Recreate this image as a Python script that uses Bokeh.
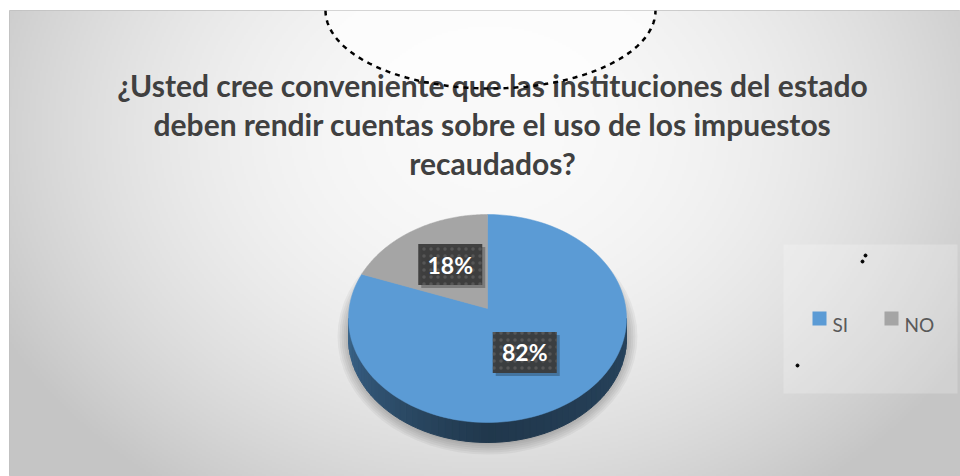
import numpy as np
from bokeh.plotting import figure
from bokeh.models import Range1d, ColumnDataSource
from bokeh.core.properties import value
from bokeh.embed import file_html
from bokeh.resources import INLINE

# ---- data ----
title_lines = ["¿Usted cree conveniente que las instituciones del estado",
               "deben rendir cuentas sobre el uso de los impuestos",
               "recaudados?"]
categories = ["SI", "NO"]
values = [82, 18]
colors = ["#5B9BD5", "#A5A5A5"]

H = 476
def Y(s):
    return H - s

p = figure(width=960, height=476, x_range=Range1d(9, 960), y_range=Range1d(Y(476), Y(10)),
           output_backend="svg", toolbar_location=None,
           x_axis_location=None, y_axis_location=None,
           min_border_left=9, min_border_right=0, min_border_top=10, min_border_bottom=0)
p.outline_line_color = "#c0c0c0"
p.grid.visible = False
p.background_fill_color = "#d8d8d8"
p.border_fill_color = "white"

# ---- background gradient ----
gw, gh = 476, 233
xs = np.linspace(9, 960, gw)
ss = np.linspace(476, 10, gh)
X, S = np.meshgrid(xs, ss)
d2 = ((X - 490) / 600) ** 2 + ((S - 130) / 480) ** 2
L = np.clip(250 - 62 * d2, 197, 250).astype(np.uint32)
img = (np.uint32(255) << 24) | (L << 16) | (L << 8) | L
p.image_rgba(image=[img], x=9, y=Y(476), dw=951, dh=466)

# ---- dashed annotation arc (white area) ----
t = np.linspace(-np.pi / 2, np.pi / 2, 80)
ax_ = 490 + 165 * np.sin(t)
ay_ = Y(10 + 78 * np.cos(t))
p.patch(ax_, ay_, fill_color="white", fill_alpha=0.7, line_color=None)

# ---- title ----
tsrc = ColumnDataSource(dict(x=[492] * len(title_lines),
                             y=[Y(84 + 39 * i) for i in range(len(title_lines))],
                             t=title_lines))
p.text("x", "y", "t", source=tsrc, text_font=value("Lato"), text_font_style="bold",
       text_font_size="30px", text_color="#404040", text_align="center",
       text_baseline="alphabetic")

p.line(ax_, ay_, line_color="black", line_width=2.5, line_dash="5 5")

# ---- 3D pie ----
cx, cy, rx, ry, depth = 487, Y(318), 139, 104, 20
apx, apy = 487, Y(308)
fr = np.array(values, dtype=float) / sum(values)
ends = np.cumsum(fr) * 2 * np.pi
starts = np.concatenate([[0.0], ends[:-1]])

def ept(a, dy=0.0):
    return cx + rx * np.sin(a), cy + ry * np.cos(a) - dy

# soft shadow
for i in range(6):
    p.ellipse(x=cx, y=Y(336), width=2 * (rx + 1 + 2 * i), height=2 * (ry + 4 + 2 * i),
              fill_color="black", fill_alpha=0.045, line_color=None)

def hexrgb(h):
    h = h.lstrip("#")
    return np.array([int(h[k:k + 2], 16) for k in (0, 2, 4)], dtype=float)

def shade(a):
    deg = np.degrees(a)
    return np.interp(deg, [90, 180, 240, 270], [0.44, 0.36, 0.55, 0.66])

# side (front half: clockwise angle 90..270 deg)
for i, (s0, e0) in enumerate(zip(starts, ends)):
    lo, hi = max(s0, np.pi / 2), min(e0, 3 * np.pi / 2)
    if hi <= lo:
        continue
    base = hexrgb(colors[i])
    edges = np.linspace(lo, hi, 61)
    qx, qy, qc = [], [], []
    for a0, a1 in zip(edges[:-1], edges[1:]):
        x0, y0 = ept(a0)
        x1, y1 = ept(a1)
        xb0, yb0 = ept(a0, depth)
        xb1, yb1 = ept(a1, depth)
        qx.append([x0, x1, xb1, xb0])
        qy.append([y0, y1, yb1, yb0])
        c = np.clip(base * shade((a0 + a1) / 2), 0, 255).astype(int)
        qc.append("#%02x%02x%02x" % tuple(c))
    p.patches(qx, qy, fill_color=qc, line_color=qc, line_width=1)

# top surfaces
for i, (s0, e0) in enumerate(zip(starts, ends)):
    a = np.linspace(s0, e0, 120)
    px, py = ept(a)
    p.patch(np.concatenate([[apx], px]), np.concatenate([[apy], py]),
            fill_color=colors[i], line_color=colors[i], line_width=0.5)

# data labels
mids = (starts + ends) / 2
lx = apx + 0.5 * rx * np.sin(mids)
ly = apy + 0.5 * ry * np.cos(mids)
lab = ["%d%%" % round(f * 100) for f in fr]
p.rect(x=lx + 3, y=ly - 3, width=64, height=41, fill_color="black", fill_alpha=0.25, line_color=None)
p.rect(x=lx, y=ly, width=64, height=41, fill_color="#3b3b3b", fill_alpha=0.95, line_color=None,
       hatch_pattern="dot", hatch_color="#5c5c5c", hatch_scale=7, hatch_alpha=0.8)
p.text(x=lx, y=ly, text=lab, text_font=value("Lato"), text_font_style="bold",
       text_font_size="23px", text_color="white", text_align="center", text_baseline="middle")

# ---- legend ----
p.rect(x=870, y=Y(318.5), width=174, height=149, fill_color="white", fill_alpha=0.22, line_color=None)
p.scatter(x=[797, 862, 865], y=[Y(365), Y(261), Y(255)], size=3, color="black")
lgx = [812 + 72 * i for i in range(len(categories))]
p.rect(x=[v + 7 for v in lgx], y=[Y(318)] * len(categories), width=14, height=14,
       fill_color=colors, line_color=None)
p.text(x=[v + 20 for v in lgx], y=[Y(324)] * len(categories), text=categories,
       text_font=value("Lato"), text_font_size="19px", text_color="#595959",
       text_align="left", text_baseline="alphabetic")

open("out.html", "w").write(file_html(p, INLINE))
